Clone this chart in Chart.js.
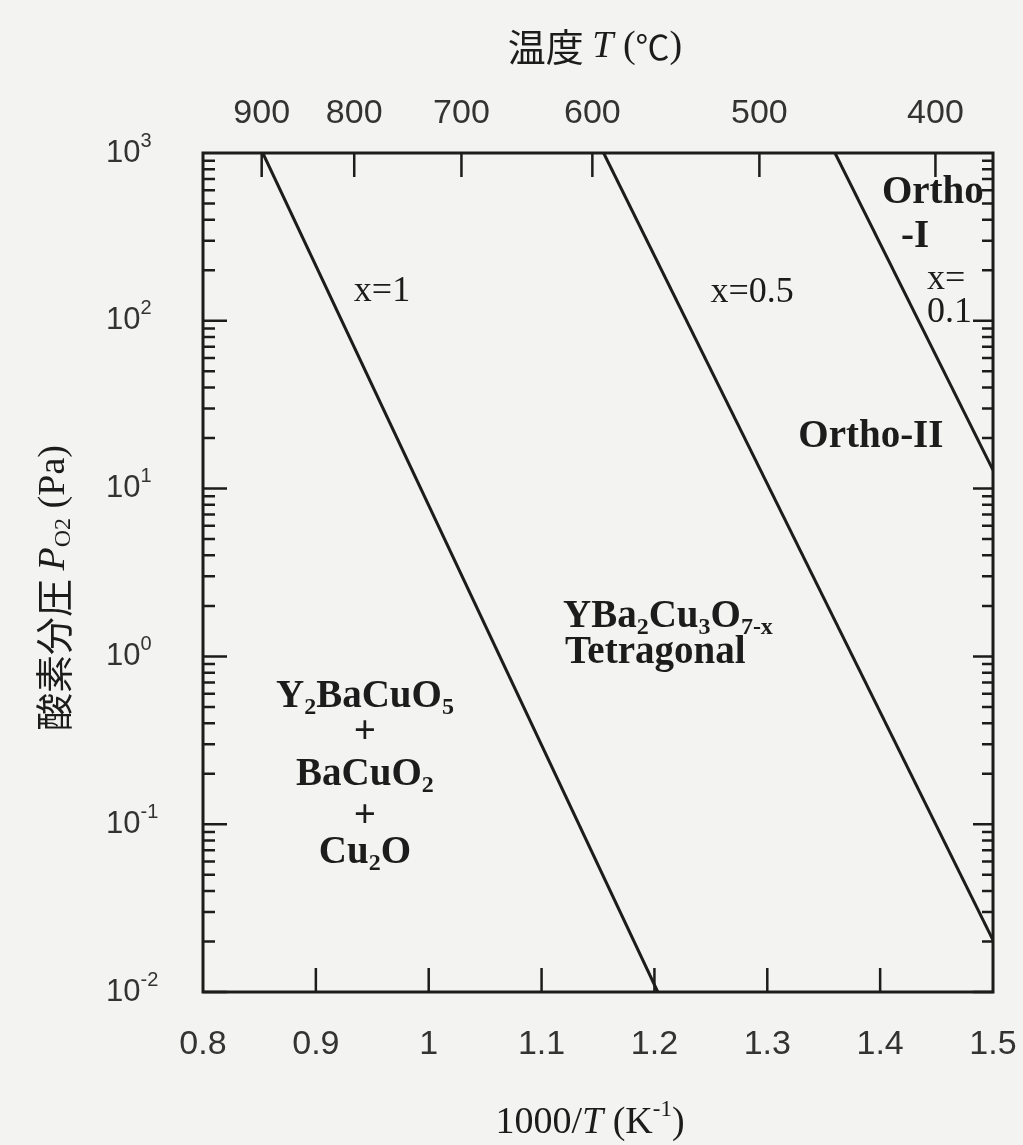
<!DOCTYPE html>
<html>
<head>
<meta charset="utf-8">
<script src="https://cdn.jsdelivr.net/npm/chart.js@4.4.0/dist/chart.umd.min.js"></script>
<style>
  html, body { margin: 0; padding: 0; background: #f3f3f1; }
  canvas { display: block; }
</style>
</head>
<body>
<canvas id="phase-chart" width="1023" height="1145"></canvas>
<script>
// x: 1000/T (K^-1), y: oxygen partial pressure (Pa, log)
const invTTicks = [0.8, 0.9, 1.0, 1.1, 1.2, 1.3, 1.4, 1.5]
const tempLabels = ['900', '800', '700', '600', '500', '400']
const tempTickPos = [0.852, 0.934, 1.029, 1.145, 1.293, 1.449] // as drawn on the top axis
const pDecades = [0.01, 0.1, 1, 10, 100, 1000]
const pExponents = ['-2', '-1', '0', '1', '2', '3']

// phase boundaries (two ends each)
const x1InvT = [0.853, 1.203]
const x1P = [1000, 0.01]
const x05InvT = [1.155, 1.5]
const x05P = [1000, 0.0204]
const x01InvT = [1.360, 1.5]
const x01P = [1000, 12.9]

const INK = '#1c1c1c'
const serif = (size, style) => `${style || ''} ${size}px "Liberation Serif", "Times New Roman", serif`
const sans = size => `${size}px "Liberation Sans", Arial, sans-serif`
const cjk = size => `${size}px "Noto Sans CJK JP", "Noto Sans CJK SC", sans-serif`

// region labels, placed in data units
const regionLabels = [
  { x: 0.9586, y: 148.6, align: 'center', size: 36, parts: [['x=1']] },
  { x: 1.2865, y: 146.6, align: 'center', size: 36, parts: [['x=0.5']] },
  { x: 1.4016, y: 578, align: 'left', size: 39, bold: true, parts: [['Ortho']] },
  { x: 1.4309, y: 315.8, align: 'center', size: 39, bold: true, parts: [['-I']] },
  { x: 1.4415, y: 175, align: 'left', size: 36, parts: [['x=']] },
  { x: 1.4415, y: 111.3, align: 'left', size: 36, parts: [['0.1']] },
  { x: 1.3918, y: 20.3, align: 'center', size: 39, bold: true, parts: [['Ortho-II']] },
  { x: 1.119, y: 1.72, align: 'left', size: 39, bold: true, parts: [['YBa'], ['2', 'sub'], ['Cu'], ['3', 'sub'], ['O'], ['7-x', 'sub']] },
  { x: 1.1207, y: 1.05, align: 'left', size: 39, bold: true, parts: [['Tetragonal']] },
  { x: 0.9435, y: 0.573, align: 'center', size: 39, bold: true, parts: [['Y'], ['2', 'sub'], ['BaCuO'], ['5', 'sub']] },
  { x: 0.9435, y: 0.35, align: 'center', size: 39, bold: true, parts: [['+']] },
  { x: 0.9435, y: 0.1965, align: 'center', size: 39, bold: true, parts: [['BaCuO'], ['2', 'sub']] },
  { x: 0.9435, y: 0.1104, align: 'center', size: 39, bold: true, parts: [['+']] },
  { x: 0.9435, y: 0.0674, align: 'center', size: 39, bold: true, parts: [['Cu'], ['2', 'sub'], ['O']] },
]

function pts(xs, ys) {
  return xs.map((v, i) => ({ x: v, y: ys[i] }))
}

// segs: {t, font, dy}
function drawRich(c, segs, x, y, align) {
  let w = 0
  segs.forEach(s => { c.font = s.font; w += c.measureText(s.t).width })
  let cx = align === 'center' ? x - w / 2 : align === 'right' ? x - w : x
  c.textAlign = 'left'
  c.textBaseline = 'middle'
  segs.forEach(s => {
    c.font = s.font
    c.fillText(s.t, cx, y + (s.dy || 0))
    cx += c.measureText(s.t).width
  })
}

function labelSegs(lbl) {
  const style = lbl.bold ? 'bold' : ''
  return lbl.parts.map(([t, kind]) => {
    if (kind === 'sub') return { t, font: serif(Math.round(lbl.size * 0.62), style), dy: lbl.size * 0.27 }
    return { t, font: serif(lbl.size, style) }
  })
}

// fixed axis band, no extra room for edge labels
function fixHeight(h) {
  return s => {
    s.height = h
    s.paddingLeft = 0
    s.paddingRight = 0
  }
}

const decorations = {
  id: 'decorations',
  beforeDraw(chart) {
    const c = chart.ctx
    c.save()
    c.fillStyle = '#f3f3f1'
    c.fillRect(0, 0, chart.width, chart.height)
    c.restore()
  },
  afterDraw(chart) {
    const c = chart.ctx
    const a = chart.chartArea
    const xs = chart.scales.x
    const ys = chart.scales.y
    c.save()
    c.strokeStyle = INK
    c.fillStyle = INK

    // inward ticks
    c.lineWidth = 2.5
    c.beginPath()
    invTTicks.slice(1, -1).forEach(v => {
      const px = xs.getPixelForValue(v)
      c.moveTo(px, a.bottom); c.lineTo(px, a.bottom - 24)
    })
    tempTickPos.forEach(v => {
      const px = xs.getPixelForValue(v)
      c.moveTo(px, a.top); c.lineTo(px, a.top + 24)
    })
    pDecades.slice(0, -1).forEach(d => {
      for (let m = 1; m <= 9; m++) {
        const py = ys.getPixelForValue(m * d)
        const major = m === 1
        c.moveTo(a.left, py); c.lineTo(a.left + (major ? 24 : 12), py)
        c.moveTo(a.right, py); c.lineTo(a.right - (major ? 20 : 11), py)
      }
    })
    c.stroke()

    // frame
    c.lineWidth = 3
    c.strokeRect(a.left, a.top, a.right - a.left, a.bottom - a.top)

    // y tick labels 10^n
    c.fillStyle = '#333'
    pDecades.forEach((d, i) => {
      const py = ys.getPixelForValue(d)
      drawRich(c, [
        { t: '10', font: sans(31) },
        { t: pExponents[i], font: sans(20), dy: -12 },
      ], 106, py, 'left')
    })

    // axis titles
    c.fillStyle = INK
    drawRich(c, [
      { t: '温度 ', font: cjk(38) },
      { t: 'T', font: serif(38, 'italic') },
      { t: ' (', font: serif(38) },
      { t: '℃', font: cjk(34) },
      { t: ')', font: serif(38) },
    ], 595, 47, 'center')

    drawRich(c, [
      { t: '1000/', font: serif(38) },
      { t: 'T', font: serif(38, 'italic') },
      { t: ' (K', font: serif(38) },
      { t: '-1', font: serif(23), dy: -13 },
      { t: ')', font: serif(38) },
    ], 590, 1123, 'center')

    c.save()
    c.translate(54, 588)
    c.rotate(-Math.PI / 2)
    drawRich(c, [
      { t: '酸素分圧 ', font: cjk(38) },
      { t: 'P', font: serif(38, 'italic') },
      { t: 'O2', font: serif(24), dy: 10 },
      { t: ' (Pa)', font: serif(38) },
    ], 0, 0, 'center')
    c.restore()

    // region labels
    regionLabels.forEach(lbl => {
      drawRich(c, labelSegs(lbl), xs.getPixelForValue(lbl.x), ys.getPixelForValue(lbl.y), lbl.align)
    })
    c.restore()
  }
}

const ctx = document.getElementById('phase-chart')
new Chart(ctx, {
  type: 'scatter',
  data: {
    datasets: [
      { label: 'x=1', data: pts(x1InvT, x1P) },
      { label: 'x=0.5', data: pts(x05InvT, x05P) },
      { label: 'x=0.1', data: pts(x01InvT, x01P) },
    ].map(ds => Object.assign(ds, {
      showLine: true, borderColor: INK, backgroundColor: INK, borderWidth: 3, pointRadius: 0,
    }))
  },
  options: {
    responsive: false,
    animation: false,
    devicePixelRatio: 1,
    layout: { padding: { left: 0, right: 30, top: 0, bottom: 0 } },
    plugins: { legend: { display: false }, tooltip: { enabled: false } },
    scales: {
      x: {
        type: 'linear', position: 'bottom', min: 0.8, max: 1.5,
        afterBuildTicks: s => { s.ticks = invTTicks.map(v => ({ value: v })) },
        afterFit: fixHeight(153),
        grid: { display: false }, border: { display: false },
        ticks: {
          autoSkip: false, maxRotation: 0, minRotation: 0, padding: 24, color: '#333',
          font: { family: 'Liberation Sans', size: 34 },
          callback: v => String(Number(v.toFixed(1)))
        }
      },
      xTop: {
        type: 'linear', position: 'top', min: 0.8, max: 1.5,
        afterBuildTicks: s => { s.ticks = tempTickPos.map(v => ({ value: v })) },
        afterFit: fixHeight(153),
        grid: { display: false }, border: { display: false },
        ticks: {
          autoSkip: false, maxRotation: 0, minRotation: 0, padding: 11, color: '#333',
          font: { family: 'Liberation Sans', size: 34 },
          callback: (v, i) => tempLabels[i]
        }
      },
      y: {
        type: 'logarithmic', position: 'left', min: 0.01, max: 1000,
        afterFit: s => { s.width = 203; s.paddingTop = 0; s.paddingBottom = 0 },
        ticks: { display: false }, grid: { display: false }, border: { display: false }
      }
    }
  },
  plugins: [decorations]
})
</script>
</body>
</html>
